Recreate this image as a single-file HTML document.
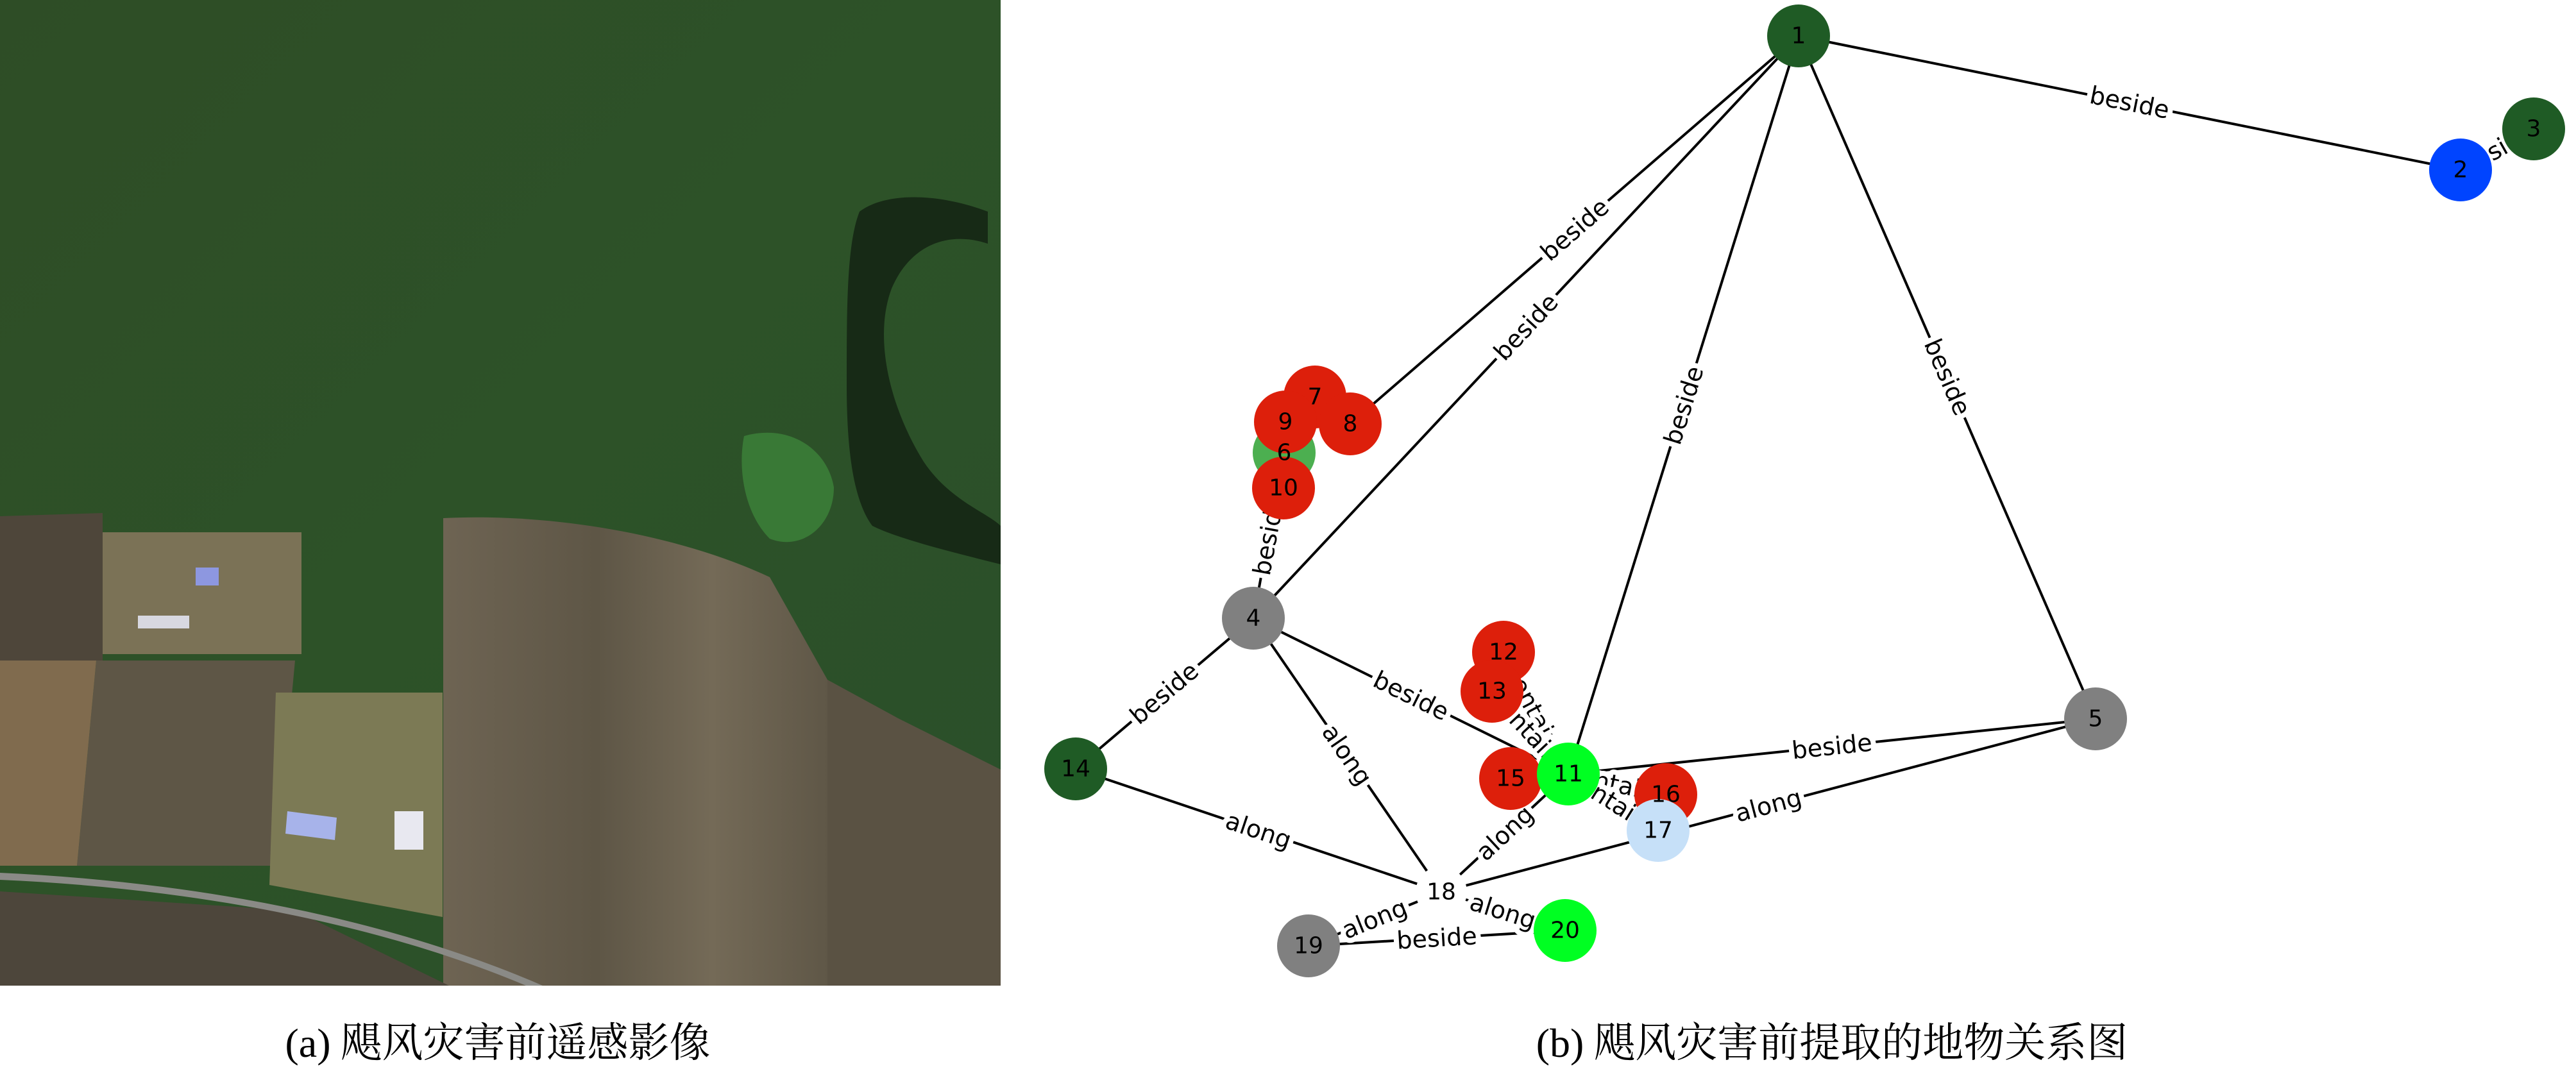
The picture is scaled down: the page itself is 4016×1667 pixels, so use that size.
<!DOCTYPE html>
<html><head><meta charset="utf-8"><style>
html,body{margin:0;padding:0;background:#fff;}
svg{display:block;}
.l{font-family:"DejaVu Sans",sans-serif;font-size:38px;fill:#000;text-anchor:middle;dominant-baseline:central;paint-order:stroke;stroke:#fff;stroke-width:16px;stroke-linejoin:round;}
.n{font-family:"DejaVu Sans",sans-serif;font-size:36px;fill:#000;text-anchor:middle;dominant-baseline:central;}
.c{font-family:"Liberation Serif","Noto Serif CJK SC",serif;font-size:64px;fill:#000;text-anchor:middle;}
</style></head><body>
<svg width="4016" height="1667" viewBox="0 0 4016 1667" xmlns="http://www.w3.org/2000/svg">
<defs>
<linearGradient id="fg" x1="0" y1="0" x2="1" y2="1"><stop offset="0" stop-color="#2e4d26"/><stop offset="0.5" stop-color="#2d5228"/><stop offset="1" stop-color="#2a4f2a"/></linearGradient>
<linearGradient id="fd" x1="0" y1="0" x2="1" y2="0"><stop offset="0" stop-color="#6e6453"/><stop offset="0.4" stop-color="#5e5646"/><stop offset="0.7" stop-color="#746a57"/><stop offset="1" stop-color="#5f5747"/></linearGradient>
</defs>
<rect x="0" y="0" width="1560" height="1537" fill="url(#fg)"/>
<path d="M1340,330 C1380,300 1460,300 1540,330 L1540,380 C1480,360 1420,380 1390,450 C1360,530 1390,640 1440,720 C1480,780 1540,800 1560,820 L1560,880 C1480,860 1400,840 1360,820 C1330,780 1320,700 1320,600 C1320,480 1320,380 1340,330 Z" fill="#172a16"/>
<path d="M1160,680 C1230,660 1290,700 1300,760 C1300,820 1250,860 1200,840 C1160,800 1150,730 1160,680 Z" fill="#3f8a3c" opacity="0.7"/>
<path d="M0,805 L160,800 L160,1030 L0,1030 Z" fill="#4e463a"/>
<path d="M691,808 C850,800 1050,830 1200,900 L1290,1060 L1290,1537 L691,1537 Z" fill="url(#fd)"/>
<path d="M1290,1060 L1400,1120 L1560,1200 L1560,1537 L1290,1537 Z" fill="#5a5243"/>
<path d="M160,830 L470,830 L470,1020 L160,1020 Z" fill="#7b7256"/>
<path d="M150,1030 L460,1030 L430,1350 L120,1350 Z" fill="#5e5646"/>
<path d="M0,1030 L150,1030 L120,1350 L0,1350 Z" fill="#806b4e"/>
<path d="M430,1080 L690,1080 L690,1430 L420,1380 Z" fill="#7c7a55"/>
<path d="M0,1390 L460,1420 L700,1537 L0,1537 Z" fill="#4d463b"/>
<path d="M0,1361 C300,1375 600,1430 846,1537 L820,1537 C590,1440 300,1385 0,1372 Z" fill="#8a8a86"/>
<rect x="305" y="885" width="36" height="28" fill="#8d97e0"/>
<rect x="215" y="960" width="80" height="20" fill="#d8d8e0"/>
<path d="M448,1265 L525,1275 L522,1310 L445,1300 Z" fill="#a7b3ea"/>
<path d="M615,1265 L660,1265 L660,1325 L615,1325 Z" fill="#e8e8f0"/>
<g stroke="#000" stroke-width="4" fill="none">
<line x1="2804" y1="56" x2="3836" y2="265"/>
<line x1="3836" y1="265" x2="3950" y2="201"/>
<line x1="2804" y1="56" x2="2105" y2="661"/>
<line x1="2804" y1="56" x2="1954" y2="964"/>
<line x1="2804" y1="56" x2="2445" y2="1207"/>
<line x1="2804" y1="56" x2="3267" y2="1121"/>
<line x1="1954" y1="964" x2="2002" y2="706"/>
<line x1="1954" y1="964" x2="1677" y2="1199"/>
<line x1="1954" y1="964" x2="2247" y2="1391"/>
<line x1="1954" y1="964" x2="2445" y2="1207"/>
<line x1="1677" y1="1199" x2="2247" y2="1391"/>
<line x1="2247" y1="1391" x2="3267" y2="1121"/>
<line x1="2445" y1="1207" x2="3267" y2="1121"/>
<line x1="2247" y1="1391" x2="2445" y2="1207"/>
<line x1="2247" y1="1391" x2="2440" y2="1451"/>
<line x1="2247" y1="1391" x2="2040" y2="1475"/>
<line x1="2040" y1="1475" x2="2440" y2="1451"/>
<line x1="2344" y1="1017" x2="2445" y2="1207"/>
<line x1="2326" y1="1078" x2="2445" y2="1207"/>
<line x1="2445" y1="1207" x2="2597" y2="1239"/>
<line x1="2445" y1="1207" x2="2585" y2="1295"/>
</g>
<text class="l" transform="translate(3320,160) rotate(11.4)">beside</text>
<text class="l" transform="translate(3893,233) rotate(-29.3)">beside</text>
<text class="l" transform="translate(2455,358) rotate(-40.9)">beside</text>
<text class="l" transform="translate(2379,510) rotate(-46.9)">beside</text>
<text class="l" transform="translate(2625,632) rotate(-72.7)">beside</text>
<text class="l" transform="translate(3036,588) rotate(66.5)">beside</text>
<text class="l" transform="translate(1978,835) rotate(-79.5)">beside</text>
<text class="l" transform="translate(1815,1081) rotate(-40.3)">beside</text>
<text class="l" transform="translate(2100,1177) rotate(55.5)">along</text>
<text class="l" transform="translate(2200,1085) rotate(26.3)">beside</text>
<text class="l" transform="translate(1962,1295) rotate(18.6)">along</text>
<text class="l" transform="translate(2757,1256) rotate(-14.8)">along</text>
<text class="l" transform="translate(2856,1164) rotate(-6)">beside</text>
<text class="l" transform="translate(2346,1299) rotate(-42.9)">along</text>
<text class="l" transform="translate(2343,1421) rotate(17.3)">along</text>
<text class="l" transform="translate(2143,1433) rotate(-22)">along</text>
<text class="l" transform="translate(2240,1463) rotate(-3.4)">beside</text>
<text class="l" transform="translate(2394,1112) rotate(62)">contains</text>
<text class="l" transform="translate(2385,1142) rotate(47)">contains</text>
<text class="l" transform="translate(2521,1223) rotate(11.9)">contains</text>
<text class="l" transform="translate(2515,1251) rotate(32)">contains</text>
<g>
<circle cx="2804" cy="56" r="49" fill="#1f5b25"/>
<circle cx="3836" cy="265" r="49" fill="#0044ff"/>
<circle cx="3950" cy="201" r="49" fill="#1f5b25"/>
<circle cx="1954" cy="964" r="49" fill="#808080"/>
<circle cx="3267" cy="1121" r="49" fill="#808080"/>
<circle cx="2002" cy="706" r="49" fill="#4caf50"/>
<circle cx="2050" cy="619" r="49" fill="#dd1f0b"/>
<circle cx="2105" cy="661" r="49" fill="#dd1f0b"/>
<circle cx="2004" cy="658" r="49" fill="#dd1f0b"/>
<circle cx="2001" cy="761" r="49" fill="#dd1f0b"/>
<circle cx="2344" cy="1017" r="49" fill="#dd1f0b"/>
<circle cx="2326" cy="1078" r="49" fill="#dd1f0b"/>
<circle cx="1677" cy="1199" r="49" fill="#1f5b25"/>
<circle cx="2355" cy="1214" r="49" fill="#dd1f0b"/>
<circle cx="2445" cy="1207" r="49" fill="#00ff22"/>
<circle cx="2597" cy="1239" r="49" fill="#dd1f0b"/>
<circle cx="2585" cy="1295" r="49" fill="#c6e0f8"/>
<circle cx="2247" cy="1391" r="40" fill="#fff"/>
<circle cx="2040" cy="1475" r="49" fill="#808080"/>
<circle cx="2440" cy="1451" r="49" fill="#00ff22"/>
</g>
<text class="n" x="2804" y="56">1</text>
<text class="n" x="3836" y="265">2</text>
<text class="n" x="3950" y="201">3</text>
<text class="n" x="1954" y="964">4</text>
<text class="n" x="3267" y="1121">5</text>
<text class="n" x="2002" y="706">6</text>
<text class="n" x="2050" y="619">7</text>
<text class="n" x="2105" y="661">8</text>
<text class="n" x="2004" y="658">9</text>
<text class="n" x="2001" y="761">10</text>
<text class="n" x="2445" y="1207">11</text>
<text class="n" x="2344" y="1017">12</text>
<text class="n" x="2326" y="1078">13</text>
<text class="n" x="1677" y="1199">14</text>
<text class="n" x="2355" y="1214">15</text>
<text class="n" x="2597" y="1239">16</text>
<text class="n" x="2585" y="1295">17</text>
<text class="n" x="2247" y="1391">18</text>
<text class="n" x="2040" y="1475">19</text>
<text class="n" x="2440" y="1451">20</text>
<text class="c" x="776" y="1648">(a) 飓风灾害前遥感影像</text>
<text class="c" x="2856" y="1648">(b) 飓风灾害前提取的地物关系图</text>
</svg>
</body></html>
